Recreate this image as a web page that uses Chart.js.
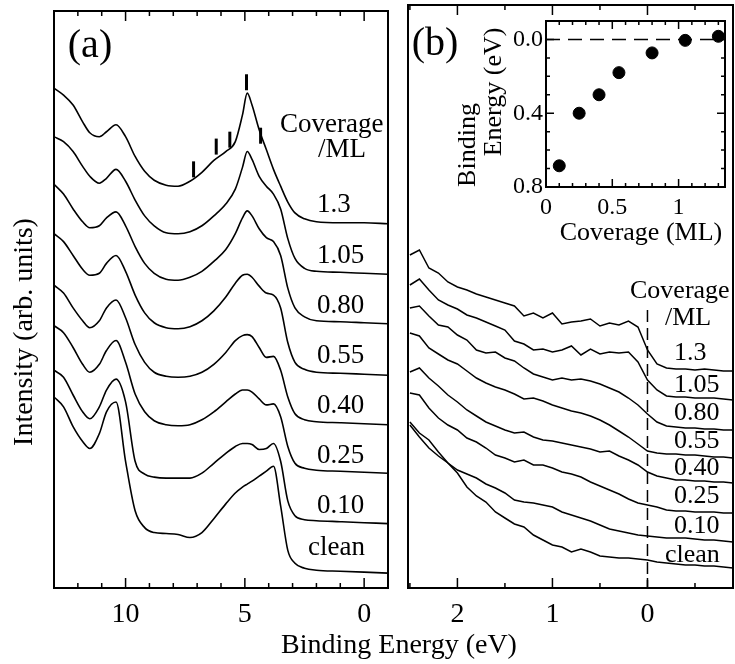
<!DOCTYPE html>
<html>
<head>
<meta charset="utf-8">
<script src="https://cdn.jsdelivr.net/npm/chart.js"></script>
<style>
  html, body { margin: 0; padding: 0; background: #fff; }
  #wrap { position: relative; width: 735px; height: 664px; }
  canvas { position: absolute; left: 0; top: 0; }
</style>
</head>
<body>
<div id="wrap">
  <canvas id="chartA" width="735" height="664"></canvas>
  <canvas id="chartB" width="735" height="664"></canvas>
  <canvas id="chartInset" width="735" height="664"></canvas>
</div>
<script>
// ---- data: panel (a), wide valence band spectra ----
const coverageLabels = ["1.3", "1.05", "0.80", "0.55", "0.40", "0.25", "0.10", "clean"];

const energyA = [13, 12.6, 12.2, 11.8, 11.5, 11.1, 10.8, 10.4, 10.0, 9.6, 9.2, 8.8, 8.3, 7.8, 7.3, 6.8,
  6.3, 5.8, 5.4, 5.1, 4.9, 4.7, 4.4, 4.1, 3.8, 3.5, 3.2, 2.9, 2.5, 2.0, 1.0, 0.0, -1.0];

const specA_130 = [505,498,488,471,460,456,461,468,456,436,421,412,407,406,411,420,432,441,451,478,500,488,463,443,423,406,390,379,373,370,369,369,368];
const specA_105 = [456,451,441,426,416,409,414,423,411,392,376,366,359,358,360,366,376,388,403,425,441,433,416,406,398,383,353,333,323,320,319,318,317];
const specA_080 = [408,398,383,370,364,366,374,380,366,345,328,318,312,311,314,320,330,342,358,374,381,376,363,354,350,336,303,283,274,270,269,268,267];
const specA_055 = [358,350,336,322,316,318,328,336,320,296,278,268,263,262,264,270,280,294,308,316,317,314,305,298,296,283,248,228,221,218,217,216,215];
const specA_040 = [306,298,283,270,263,270,283,291,273,246,228,218,214,213,214,218,226,238,250,255,256,254,243,233,234,220,193,176,170,168,167,166,165];
const specA_025 = [265,258,243,226,218,226,240,250,228,196,178,169,165,164,165,170,178,188,196,200,200,198,191,185,186,173,143,126,121,119,118,117,116];
const specA_010 = [220,213,195,178,171,183,200,211,188,128,115,112,111,111,111,116,126,136,143,146,146,145,140,141,146,128,88,73,69,68,67,66,65];
const specA_clean = [193,183,163,148,141,156,178,188,128,78,61,56,55,54,51,56,70,85,96,102,105,108,113,118,123,83,38,25,20,18,17,16,15];

// peak markers above the 1.3 ML spectrum
const markE = [7.15, 6.2, 5.63, 4.93, 4.34];
const markI = [423, 446, 453, 511, 457];

const ticksA = [10, 5, 0];

// ---- data: panel (b), near Fermi level ----
const energyB = [2.5, 2.4, 2.3, 2.2, 2.1, 2.0, 1.9, 1.8, 1.7, 1.6, 1.5, 1.4, 1.3, 1.2, 1.1, 1.0, 0.9, 0.8,
  0.7, 0.6, 0.5, 0.4, 0.3, 0.2, 0.1, 0.0, -0.1, -0.2, -0.3, -0.4, -0.5, -0.6, -0.7, -0.8, -0.9];

const specB_130 = [333,338,320,315,306,301,298,294,291,288,285,282,272,275,270,275,264,266,267,269,262,265,263,267,261,238,224,220,219,219,218,219,218,217,217];
const specB_105 = [303,309,298,288,283,279,273,270,266,262,258,247,244,238,239,236,238,242,233,239,234,236,235,236,226,208,198,192,191,191,190,190,190,189,188];
const specB_080 = [280,282,272,263,261,253,248,238,235,236,230,227,220,214,211,208,210,208,209,207,204,200,196,190,183,174,166,162,161,160,160,159,159,158,158];
const specB_055 = [255,252,240,234,228,224,217,210,205,201,198,194,189,190,187,183,180,177,175,172,168,163,157,151,144,137,135,134,134,133,133,132,131,131,130];
const specB_040 = [216,220,210,202,193,186,178,172,166,162,158,155,156,151,148,147,145,143,141,139,136,137,132,128,123,116,112,110,108,108,107,107,106,106,105];
const specB_025 = [195,193,180,170,163,158,150,146,140,133,130,126,128,123,123,120,116,114,111,106,102,98,94,89,85,83,81,78,77,77,76,76,76,75,75];
const specB_010 = [166,155,148,136,125,118,114,110,104,100,95,88,86,85,83,81,76,73,70,67,63,59,57,55,53,52,51,50,50,50,49,48,48,47,46];
const specB_clean = [163,151,140,132,125,115,101,92,86,76,70,64,61,53,48,43,41,36,39,36,32,31,30,30,29,28,26,25,24,23,23,22,22,21,20];

const fermiE = [0, 0];
const fermiI = [278, 0];

const ticksB = [2, 1, 0];

// ---- data: inset, peak shift vs coverage ----
const coverage = [0.1, 0.25, 0.4, 0.55, 0.8, 1.05, 1.3];
const shift = [0.685, 0.40, 0.30, 0.18, 0.073, 0.005, -0.017];
const zeroLineX = [0, 1.35];
const zeroLineY = [0, 0];

const FONT = '"Liberation Serif", "Times New Roman", serif';

function pts(xs, ys) {
  return xs.map((x, i) => ({ x: x, y: ys[i] }));
}

function curve(xs, ys, extra) {
  return Object.assign({
    data: pts(xs, ys),
    borderColor: "#000",
    borderWidth: 1.6,
    pointRadius: 0,
    fill: false,
  }, extra || {});
}

// box border plus inward ticks on chosen sides
function framePlugin(specs) {
  return {
    id: "frame",
    afterDatasetsDraw(chart) {
      const ctx = chart.ctx, a = chart.chartArea;
      ctx.save();
      ctx.strokeStyle = "#000";
      ctx.lineWidth = 2;
      ctx.strokeRect(a.left, a.top, a.right - a.left, a.bottom - a.top);
      ctx.lineWidth = 1.5;
      specs.forEach(t => {
        const sc = chart.scales[t.axis];
        t.values.forEach(v => {
          const p = sc.getPixelForValue(v);
          ctx.beginPath();
          if (t.axis === "x") {
            if (t.sides.includes("bottom")) { ctx.moveTo(p, a.bottom); ctx.lineTo(p, a.bottom - t.len); }
            if (t.sides.includes("top")) { ctx.moveTo(p, a.top); ctx.lineTo(p, a.top + t.len); }
          } else {
            if (t.sides.includes("left")) { ctx.moveTo(a.left, p); ctx.lineTo(a.left + t.len, p); }
            if (t.sides.includes("right")) { ctx.moveTo(a.right, p); ctx.lineTo(a.right - t.len, p); }
          }
          ctx.stroke();
        });
      });
      ctx.restore();
    }
  };
}

function textPlugin(items) {
  return {
    id: "texts",
    afterDraw(chart) {
      const ctx = chart.ctx;
      items.forEach(it => {
        ctx.save();
        ctx.font = it.size + "px " + FONT;
        ctx.fillStyle = "#000";
        ctx.textAlign = it.align || "center";
        ctx.textBaseline = it.base || "alphabetic";
        ctx.translate(it.x, it.y);
        if (it.rot) ctx.rotate(it.rot * Math.PI / 180);
        ctx.fillText(it.t, 0, 0);
        ctx.restore();
      });
    }
  };
}

function baseOptions(padding) {
  return {
    responsive: false,
    animation: false,
    events: [],
    layout: { padding: padding },
    plugins: { legend: { display: false }, tooltip: { enabled: false } },
  };
}

// ---------- panel (a) ----------
const spectraA = [specA_130, specA_105, specA_080, specA_055, specA_040, specA_025, specA_010, specA_clean];
const labelYA = [212, 263, 313, 363, 413, 463, 513, 555];

const textsA = [
  { t: "(a)", x: 90, y: 57, size: 40 },
  { t: "Coverage", x: 280, y: 132, size: 27, align: "left" },
  { t: "/ML", x: 318, y: 157, size: 27, align: "left" },
  { t: "Intensity (arb. units)", x: 25, y: 332, size: 28, rot: -90, base: "middle" },
  { t: "Binding Energy (eV)", x: 399, y: 653, size: 28 },
].concat(coverageLabels.map((c, i) => ({
  t: c, x: c === "clean" ? 308 : 317, y: labelYA[i], size: 27, align: "left"
})));

const optA = baseOptions({ left: 54, right: 347, top: 5, bottom: 0 });
optA.scales = {
  x: {
    type: "linear", reverse: true, min: -1, max: 13,
    grid: { display: false, drawTicks: false }, border: { display: false },
    ticks: { color: "#000", font: { family: FONT, size: 28 }, padding: 10 },
    afterBuildTicks: s => { s.ticks = ticksA.map(v => ({ value: v })); },
    afterFit: s => { s.height = 76; },
  },
  y: { display: false, min: 0, max: 583 },
};

new Chart(document.getElementById("chartA"), {
  type: "line",
  data: {
    datasets: spectraA.map(s => curve(energyA, s, { cubicInterpolationMode: "monotone" })).concat([{
      data: pts(markE, markI),
      showLine: false,
      pointStyle: "line",
      rotation: 90,
      pointRadius: 8,
      borderWidth: 3,
      borderColor: "#000",
    }]),
  },
  options: optA,
  plugins: [
    framePlugin([
      { axis: "x", values: ticksA, len: 10, sides: ["bottom", "top"] },
      { axis: "x", values: [13, 12, 11, 9, 8, 7, 6, 4, 3, 2, 1, -1], len: 5, sides: ["bottom", "top"] },
    ]),
    textPlugin(textsA),
  ],
});

// ---------- panel (b) ----------
const spectraB = [specB_130, specB_105, specB_080, specB_055, specB_040, specB_025, specB_010, specB_clean];
const labelYB = [360, 392, 420, 448, 475, 503, 533, 562];

const textsB = [
  { t: "(b)", x: 435, y: 55, size: 40 },
  { t: "Coverage", x: 630, y: 298, size: 26, align: "left" },
  { t: "/ML", x: 665, y: 325, size: 26, align: "left" },
].concat(coverageLabels.map((c, i) => ({
  t: c, x: c === "clean" ? 665 : 674, y: labelYB[i], size: 26, align: "left"
})));

const optB = baseOptions({ left: 408, right: 2, top: 5, bottom: 0 });
optB.scales = {
  x: {
    type: "linear", reverse: true, min: -0.9, max: 2.52,
    grid: { display: false, drawTicks: false }, border: { display: false },
    ticks: { color: "#000", font: { family: FONT, size: 28 }, padding: 10 },
    afterBuildTicks: s => { s.ticks = ticksB.map(v => ({ value: v })); },
    afterFit: s => { s.height = 76; },
  },
  y: { display: false, min: 0, max: 583 },
};

new Chart(document.getElementById("chartB"), {
  type: "line",
  data: {
    datasets: spectraB.map(s => curve(energyB, s, { borderWidth: 1.5, tension: 0 })).concat([
      curve(fermiE, fermiI, { borderWidth: 1.5, borderDash: [12, 6] }),
    ]),
  },
  options: optB,
  plugins: [
    framePlugin([
      { axis: "x", values: ticksB, len: 10, sides: ["bottom", "top"] },
      { axis: "x", values: [2.5, 1.5, 0.5, -0.5], len: 5, sides: ["bottom", "top"] },
    ]),
    textPlugin(textsB),
  ],
});

// ---------- inset ----------
const textsInset = [
  { t: "Binding", x: 468, y: 145, size: 26, rot: -90, base: "middle" },
  { t: "Energy (eV)", x: 494, y: 92, size: 26, rot: -90, base: "middle" },
  { t: "Coverage (ML)", x: 641, y: 240, size: 26 },
];

const optI = baseOptions({ left: 506, right: 10, top: 21, bottom: 447 });
optI.scales = {
  x: {
    type: "linear", min: 0, max: 1.35,
    grid: { display: false, drawTicks: false }, border: { display: false },
    ticks: { color: "#000", font: { family: FONT, size: 24 }, padding: 6,
      callback: v => String(v) },
    afterBuildTicks: s => { s.ticks = [0, 0.5, 1].map(v => ({ value: v })); },
    afterFit: s => { s.height = 30; },
  },
  y: {
    type: "linear", reverse: true, min: -0.1, max: 0.8,
    grid: { display: false, drawTicks: false }, border: { display: false },
    ticks: { color: "#000", font: { family: FONT, size: 24 }, padding: 3,
      callback: v => v.toFixed(1) },
    afterBuildTicks: s => { s.ticks = [0, 0.4, 0.8].map(v => ({ value: v })); },
    afterFit: s => { s.width = 40; },
  },
};

new Chart(document.getElementById("chartInset"), {
  type: "line",
  data: {
    datasets: [
      curve(zeroLineX, zeroLineY, { borderWidth: 1.5, borderDash: [14, 8] }),
      {
        data: pts(coverage, shift),
        showLine: false,
        pointRadius: 6,
        pointBackgroundColor: "#000",
        pointBorderColor: "#000",
      },
    ],
  },
  options: optI,
  plugins: [
    framePlugin([
      { axis: "x", values: [0, 0.5, 1], len: 8, sides: ["bottom", "top"] },
      { axis: "x", values: [0.1, 0.2, 0.3, 0.4, 0.6, 0.7, 0.8, 0.9, 1.1, 1.2, 1.3], len: 4, sides: ["bottom", "top"] },
      { axis: "y", values: [0, 0.4], len: 8, sides: ["left", "right"] },
      { axis: "y", values: [0.1, 0.2, 0.3, 0.5, 0.6, 0.7], len: 4, sides: ["left", "right"] },
    ]),
    textPlugin(textsInset),
  ],
});
</script>
</body>
</html>
